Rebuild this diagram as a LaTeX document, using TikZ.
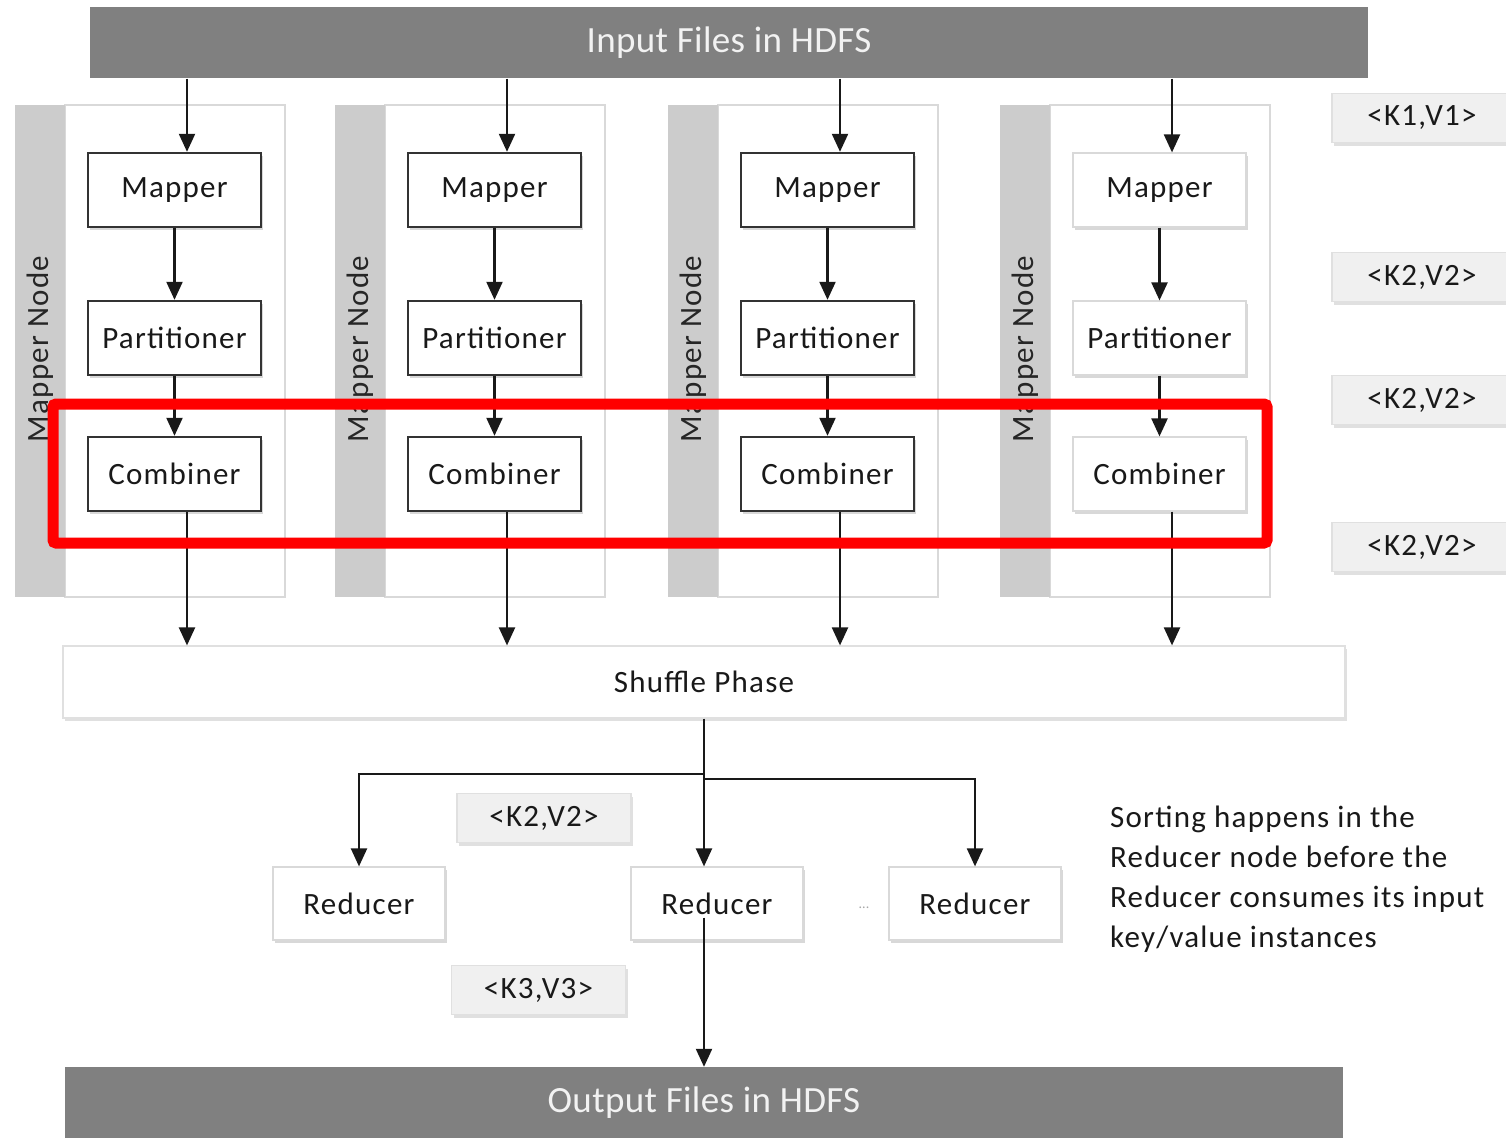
\documentclass[tikz,border=0pt]{standalone}
\usepackage{fontspec}
\setmainfont{Carlito}
\newfontfamily\spacedfont[LetterSpace=4]{Carlito}
\newfontfamily\barfont[LetterSpace=1]{Carlito}
\usetikzlibrary{arrows.meta,calc,shadows}
\begin{document}
\begin{tikzpicture}[x=1pt,y=-1pt,
  bar/.style={fill=black!50,draw=none,text=white!95!black,font=\barfont\fontsize{37}{40}\selectfont,
    minimum height=71pt,inner sep=0pt},
  strip/.style={fill=black!20,draw=none},
  panel/.style={fill=white,draw=black!15,line width=1.2pt},
  procbox/.style={draw=black!80,line width=2.4pt,fill=white,minimum width=173pt,minimum height=74pt,
    inner sep=0pt,font=\spacedfont\fontsize{31}{34}\selectfont,text=black!90,
    drop shadow={shadow xshift=2pt,shadow yshift=-3pt,fill=black!25,opacity=0.6}},
  softbox/.style={draw=black!15,line width=1.2pt,fill=white,minimum width=173pt,minimum height=74pt,
    inner sep=0pt,font=\spacedfont\fontsize{31}{34}\selectfont,text=black!90,
    drop shadow={shadow xshift=2pt,shadow yshift=-3pt,fill=black!25,opacity=0.6}},
  kvbox/.style={draw=black!12,line width=1.2pt,fill=black!6,minimum width=174pt,minimum height=49pt,
    inner sep=0pt,font=\spacedfont\fontsize{31}{34}\selectfont,text=black!90,
    drop shadow={shadow xshift=2pt,shadow yshift=-3pt,fill=black!20,opacity=0.6}},
  vlabel/.style={rotate=90,font=\spacedfont\fontsize{31}{34}\selectfont,text=black!85},
  flow/.style={line width=2.2pt,draw=black!90,-{Triangle[length=18pt,width=16pt]}},
]
\useasboundingbox (0,0) rectangle (1506,1137);
\fill[white] (0,0) rectangle (1506,1137);

% input and output bars
\node[bar,minimum width=1278pt] (inbar) at (729,43) {Input Files in HDFS};
\node[bar,minimum width=1278pt,minimum height=72pt] (outbar) at (704,1103) {Output Files in HDFS};

% mapper node panels
\foreach \i/\sx in {1/15,2/335,3/668,4/1000}{
  \draw[panel] (\sx+50,105) rectangle (\sx+270,597);
  \fill[strip] (\sx,105) rectangle (\sx+50,597);
  \node[vlabel] (mn\i) at (\sx+25,349) {Mapper Node};
}

% processing boxes
\foreach \i/\cx in {1/174.5,2/494.5,3/827.5}{
  \node[procbox] (m\i) at (\cx,190) {Mapper};
  \node[procbox] (p\i) at (\cx,338) {Partitioner};
  \node[procbox] (c\i) at (\cx,474) {Combiner};
}
\node[softbox] (m4) at (1159.5,190) {Mapper};
\node[softbox] (p4) at (1159.5,338) {Partitioner};
\node[softbox] (c4) at (1159.5,474) {Combiner};

% shuffle phase
\node[draw=black!12,line width=1.2pt,fill=white,minimum width=1282pt,minimum height=72pt,inner sep=0pt,
  font=\spacedfont\fontsize{31}{34}\selectfont,text=black!90,
  drop shadow={shadow xshift=2pt,shadow yshift=-3pt,fill=black!20,opacity=0.6}] (shuffle) at (704,682) {Shuffle Phase};

% mapper-side connectors
\foreach \i in {1,2,3,4}{
  \draw[flow] ([xshift=12.5pt]m\i.north |- inbar.south) -- ([xshift=12.5pt]m\i.north);
  \draw[flow] (m\i) -- (p\i);
  \draw[flow] (p\i) -- (c\i);
  \draw[flow] ([xshift=12.5pt]c\i.south) -- ([xshift=12.5pt]c\i.south |- shuffle.north);
}

% reducers
\node[softbox,minimum width=172pt,minimum height=73pt] (r1) at (359,903.5) {Reducer};
\node[softbox,minimum width=172pt,minimum height=73pt] (r2) at (717,903.5) {Reducer};
\node[softbox,minimum width=172pt,minimum height=73pt] (r3) at (975,903.5) {Reducer};
\node[font=\fontsize{14}{16}\selectfont,text=black!35] (dots) at (864,908) {...};

% key/value labels
\node[kvbox] (kvmid) at (544,818) {<K2,V2>};
\node[kvbox] (kvout) at (538.5,990) {<K3,V3>};
\node[kvbox,minimum width=180pt] (kv1) at (1422,118) {<K1,V1>};
\node[kvbox,minimum width=180pt] (kv2) at (1422,277) {<K2,V2>};
\node[kvbox,minimum width=180pt] (kv3) at (1422,400) {<K2,V2>};
\node[kvbox,minimum width=180pt] (kv4) at (1422,547) {<K2,V2>};

% shuffle to reducers
\coordinate (splitl) at ($(shuffle.south)+(0,55)$);
\coordinate (splitr) at ($(shuffle.south)+(0,60)$);
\draw[flow] (shuffle.south) -- (shuffle.south |- r2.north);
\draw[flow] (splitl) -| (r1.north);
\draw[flow] (splitr) -| (r3.north);

% reducer to output
\coordinate (rout) at ($(r2.center -| shuffle.south)+(0,14)$);
\draw[flow] (rout) -- (rout |- outbar.north);

% note
\node[anchor=north west,align=left,font=\spacedfont\fontsize{31}{40}\selectfont,text=black!90,inner sep=0pt] (note) at (1110,806)
  {Sorting happens in the\\Reducer node before the\\Reducer consumes its input\\key/value instances};

% highlight frame
\draw[red,line width=11pt,rounded corners=3pt] (53,404) rectangle (1267,543);
\end{tikzpicture}
\end{document}
